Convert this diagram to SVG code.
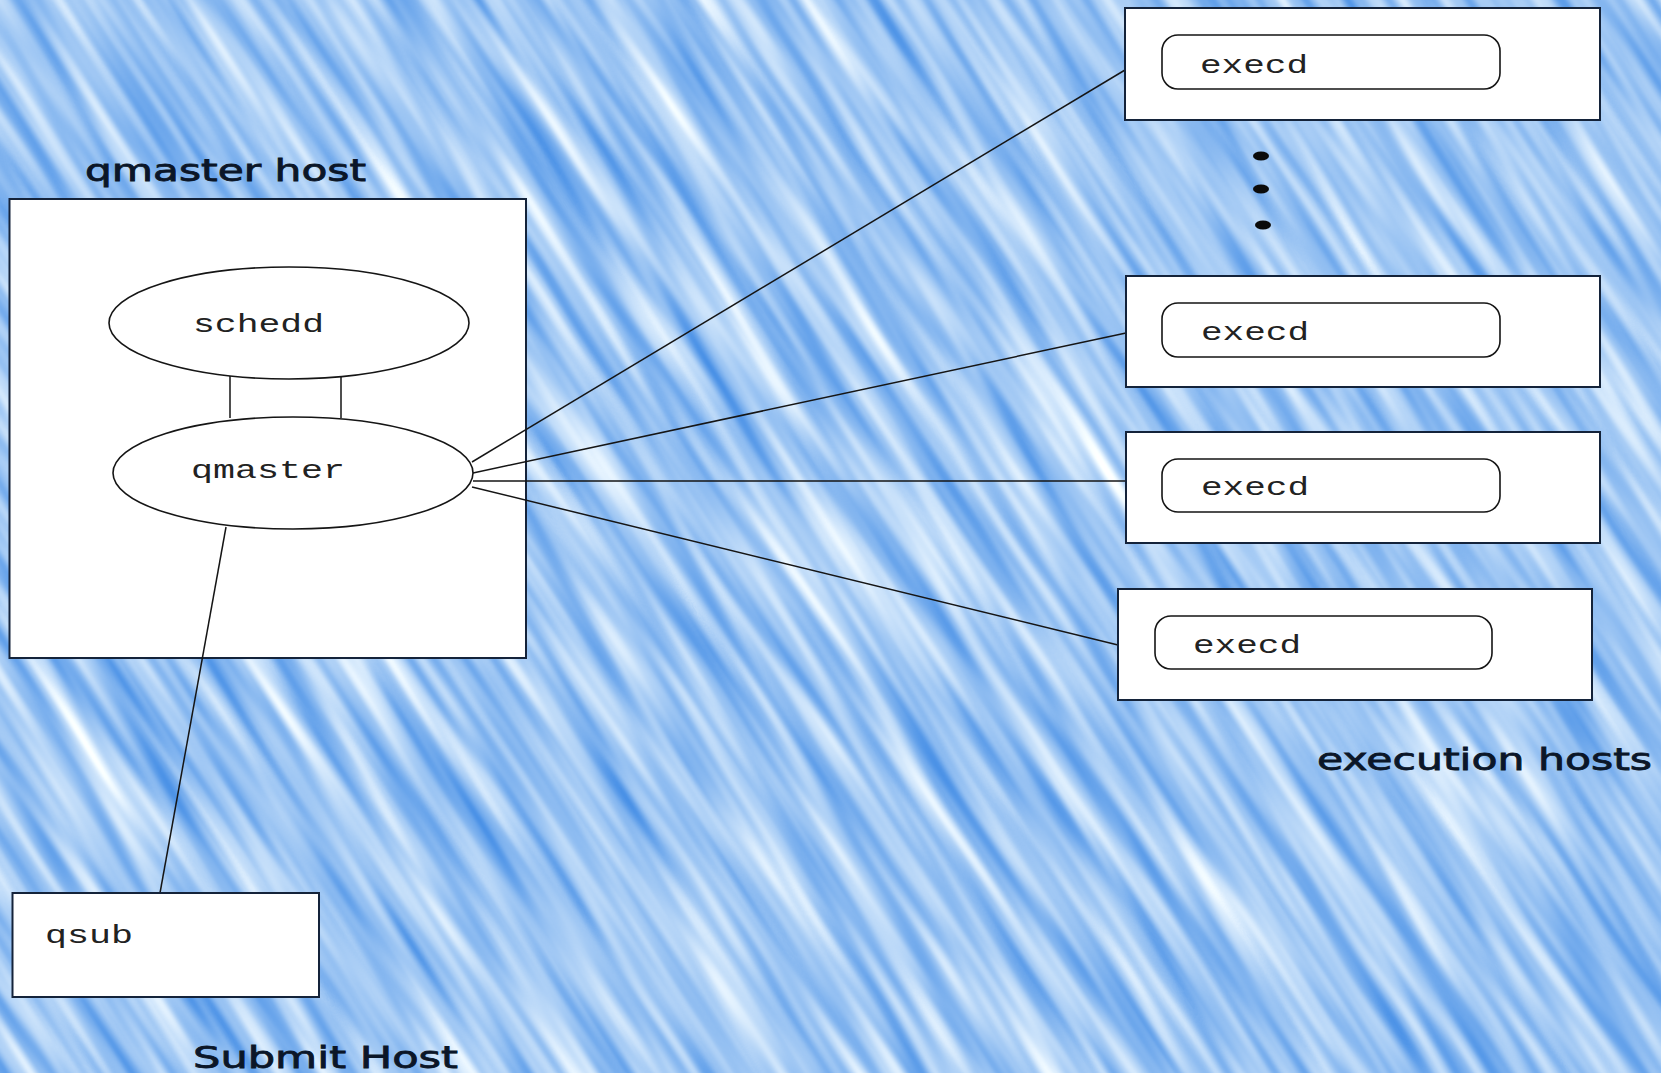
<svg xmlns="http://www.w3.org/2000/svg" width="1661" height="1073" viewBox="0 0 1661 1073">
<defs>
<style>
.box{fill:#ffffff;stroke:#14233a;stroke-width:2}
.ell{fill:#ffffff;stroke:#151515;stroke-width:1.6}
.inner{fill:#ffffff;stroke:#151515;stroke-width:1.6}
.mono{font-family:"Liberation Mono","DejaVu Sans Mono",monospace;font-size:26px;fill:#222222}
.title{font-family:"DejaVu Sans","Noto Sans",sans-serif;font-size:30px;fill:#0b1628;stroke:#0b1628;stroke-width:0.8}
.conn line{stroke:#151515;stroke-width:1.5}
.dot{fill:#0b0b0b}
</style>
<filter id="tex" filterUnits="userSpaceOnUse" x="-170" y="-464" width="2000" height="2000" color-interpolation-filters="sRGB">
<feTurbulence type="fractalNoise" baseFrequency="0.004 0.05" numOctaves="2" seed="7"/>
<feColorMatrix type="matrix" values="0.95 0 0 0 0.15  0.6 0 0 0 0.48  0.15 0 0 0 0.88  0 0 0 0 1"/>
</filter>
</defs>
<rect x="0" y="0" width="1661" height="1073" fill="#98c4f2"/>
<g transform="rotate(57 830 536)">
<rect x="-170" y="-464" width="2000" height="2000" fill="#98c4f2" filter="url(#tex)"/>
</g>

<g id="qmaster-host">
<rect class="box" x="9.5" y="199" width="516.5" height="459"/>
<text class="title" x="85" y="181" textLength="281" lengthAdjust="spacingAndGlyphs">qmaster host</text>
</g>

<g id="connectors" class="conn">
<line x1="230" y1="376" x2="230" y2="418"/>
<line x1="341" y1="376" x2="341" y2="418"/>
<line x1="472" y1="462" x2="1125" y2="70"/>
<line x1="473" y1="473" x2="1126" y2="333"/>
<line x1="473" y1="481" x2="1126" y2="481"/>
<line x1="472" y1="487" x2="1118" y2="645"/>
<line x1="226" y1="527" x2="160" y2="893"/>
</g>

<g id="schedd">
<ellipse class="ell" cx="289" cy="323" rx="180" ry="56"/>
<text class="mono" x="193" y="332" textLength="131" lengthAdjust="spacingAndGlyphs">schedd</text>
</g>

<g id="qmaster">
<ellipse class="ell" cx="293" cy="473" rx="180" ry="56"/>
<text class="mono" x="191" y="478" textLength="154" lengthAdjust="spacingAndGlyphs">qmaster</text>
</g>

<g id="exec-host-1">
<rect class="box" x="1125" y="8" width="475" height="112"/>
<rect class="inner" x="1162" y="35" width="338" height="54" rx="16" ry="16"/>
<text class="mono" x="1200" y="73" textLength="108" lengthAdjust="spacingAndGlyphs">execd</text>
</g>

<g id="ellipsis">
<ellipse class="dot" cx="1261" cy="156" rx="8" ry="4.5"/>
<ellipse class="dot" cx="1261" cy="189" rx="8" ry="4.5"/>
<ellipse class="dot" cx="1263" cy="225" rx="8" ry="4.5"/>
</g>

<g id="exec-host-2">
<rect class="box" x="1126" y="276" width="474" height="111"/>
<rect class="inner" x="1162" y="303" width="338" height="54" rx="16" ry="16"/>
<text class="mono" x="1201" y="340" textLength="108" lengthAdjust="spacingAndGlyphs">execd</text>
</g>

<g id="exec-host-3">
<rect class="box" x="1126" y="432" width="474" height="111"/>
<rect class="inner" x="1162" y="459" width="338" height="53" rx="16" ry="16"/>
<text class="mono" x="1201" y="495" textLength="108" lengthAdjust="spacingAndGlyphs">execd</text>
</g>

<g id="exec-host-4">
<rect class="box" x="1118" y="589" width="474" height="111"/>
<rect class="inner" x="1155" y="616" width="337" height="53" rx="16" ry="16"/>
<text class="mono" x="1193" y="653" textLength="108" lengthAdjust="spacingAndGlyphs">execd</text>
</g>

<g id="execution-hosts-label">
<text class="title" x="1317" y="770" textLength="335" lengthAdjust="spacingAndGlyphs">execution hosts</text>
</g>

<g id="submit-host">
<rect class="box" x="12.5" y="893" width="306.5" height="104"/>
<text class="mono" x="45" y="943" textLength="88" lengthAdjust="spacingAndGlyphs">qsub</text>
<text class="title" x="193" y="1068" textLength="265" lengthAdjust="spacingAndGlyphs">Submit Host</text>
</g>
</svg>
